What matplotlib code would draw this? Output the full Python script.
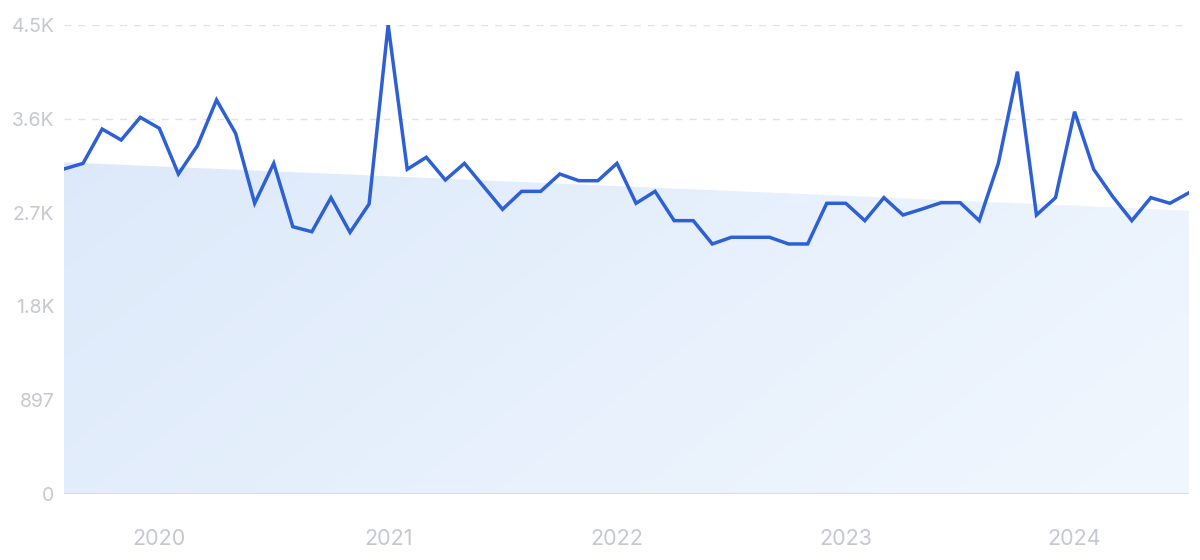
import numpy as np
import pandas as pd
import matplotlib
matplotlib.use("Agg")
import matplotlib.pyplot as plt
from matplotlib.ticker import FixedLocator, FixedFormatter

# ---- data ----
months = pd.date_range("2019-08-01", "2024-07-01", freq="MS")
values = [3108, 3162, 3490, 3385, 3602, 3497, 3060, 3331, 3768, 3449,
          2780, 3162, 2556, 2508, 2834, 2502, 2773, 4485, 3105, 3220,
          3003, 3162, 2942, 2722, 2894, 2894, 3060, 2996, 2996, 3162,
          2780, 2894, 2614, 2614, 2391, 2455, 2455, 2455, 2391, 2391,
          2780, 2780, 2614, 2834, 2668, 2725, 2786, 2786, 2614, 3162,
          4039, 2668, 2834, 3656, 3105, 2844, 2614, 2834, 2780, 2881]
trend_ends = [3172, 2710]
y_ticks = [0, 897, 1794, 2691, 3588, 4485]
y_labels = ["0", "897", "1.8K", "2.7K", "3.6K", "4.5K"]
x_years = ["2020", "2021", "2022", "2023", "2024"]

# ---- figure ----
W, H = 1200, 560
fig = plt.figure(figsize=(W / 100, H / 100), dpi=100)
ax = fig.add_axes([64 / W, 1 - 494 / H, (1189 - 64) / W, (494 - 25) / H])

x = np.arange(len(values))
ax.set_xlim(x[0], x[-1])
ax.set_ylim(0, y_ticks[-1])

# trend area with gradient
trend = np.linspace(trend_ends[0], trend_ends[1], len(values))
poly = ax.fill_between(x, 0, trend, color="none", lw=0)
c1 = np.array([219, 232, 250]) / 255
c2 = np.array([241, 247, 254]) / 255
gx, gy = np.meshgrid(np.linspace(0, 1, 200), np.linspace(0, 1, 100))
t = np.clip(0.65 * gx + 0.35 * gy, 0, 1)
img = c1[None, None, :] * (1 - t[..., None]) + c2[None, None, :] * t[..., None]
im = ax.imshow(img, extent=[x[0], x[-1], 0, y_ticks[-1]], origin="upper",
               aspect="auto", zorder=1, interpolation="bilinear")
path = poly.get_paths()[0]
im.set_clip_path(path, transform=ax.transData)

# grid
for v in y_ticks[1:]:
    ax.axhline(v, color="#dde3eb", lw=1.0, ls=(0, (5, 5)), zorder=0.5)
ax.axhline(0, color="#d3dff0", lw=1.5, zorder=2)

# line
ax.plot(x, values, color="#2d5fd5", lw=2.5, zorder=3, solid_joinstyle="miter")

for s in ax.spines.values():
    s.set_visible(False)

ax.yaxis.set_major_locator(FixedLocator(y_ticks))
ax.yaxis.set_major_formatter(FixedFormatter(y_labels))
year_pos = [list(months).index(pd.Timestamp(f"{y}-01-01")) for y in x_years]
ax.xaxis.set_major_locator(FixedLocator(year_pos))
ax.xaxis.set_major_formatter(FixedFormatter(x_years))
ax.tick_params(axis="both", length=0, labelcolor="#c6c8d0")
ax.tick_params(axis="y", pad=7, labelsize=14)
ax.tick_params(axis="x", pad=25, labelsize=15.5)
for lab in ax.get_xticklabels() + ax.get_yticklabels():
    lab.set_fontfamily("Inter")

fig.savefig("out.png", dpi=100, facecolor="white")
